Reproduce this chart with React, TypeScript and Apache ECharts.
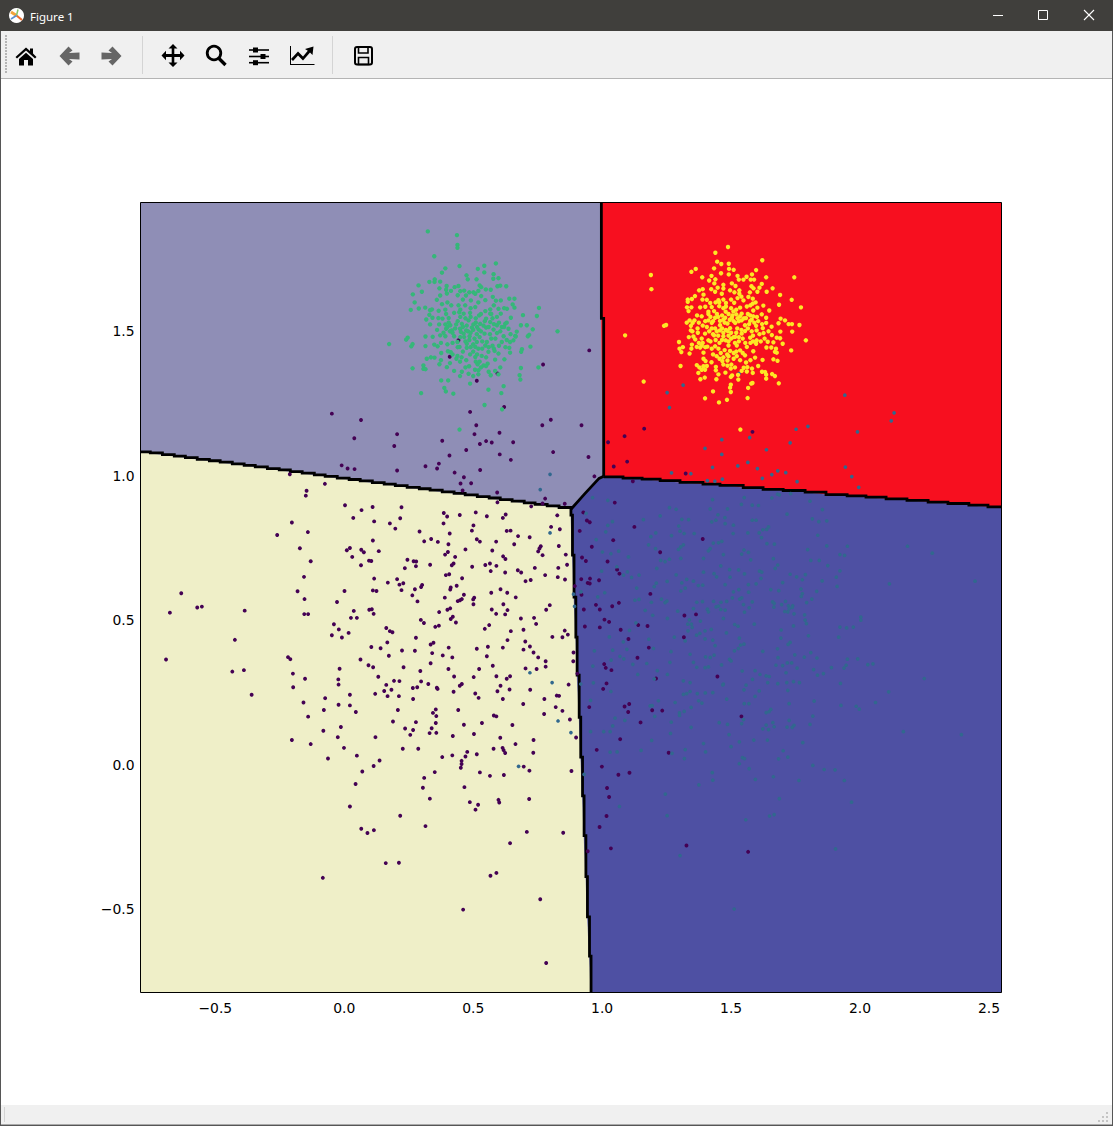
import React, { useEffect, useRef } from "react";
import * as echarts from "echarts";

const xLimits = [-0.79, 2.5485];
const yLimits = [-0.789, 1.946];
const tickValuesX = [-0.5, 0, 0.5, 1, 1.5, 2, 2.5];
const tickValuesY = [-0.5, 0, 0.5, 1, 1.5];

const boundaryLeft = [[-0.79,1.083],[-0.752,1.079],[-0.705,1.073],[-0.659,1.068],[-0.616,1.063],[-0.57,1.057],[-0.523,1.052],[-0.481,1.047],[-0.434,1.041],[-0.388,1.036],[-0.345,1.031],[-0.298,1.025],[-0.252,1.02],[-0.209,1.014],[-0.163,1.009],[-0.116,1.003],[-0.074,0.998],[-0.027,0.992],[0.019,0.987],[0.062,0.982],[0.109,0.976],[0.155,0.971],[0.198,0.966],[0.244,0.96],[0.291,0.955],[0.333,0.95],[0.38,0.944],[0.426,0.939],[0.469,0.934],[0.516,0.928],[0.562,0.923],[0.605,0.917],[0.651,0.912],[0.698,0.906],[0.74,0.901],[0.787,0.896],[0.833,0.89],[0.88,0.885]];
const boundaryTop = [[0.997,1.946],[0.997,1.545],[1.006,0.998]];
const boundaryDiagonal = [[1.006,0.998],[0.988,0.991],[0.934,0.939],[0.921,0.926],[0.88,0.885]];
const boundaryRight = [[1.006,0.996],[1.081,0.992],[1.155,0.988],[1.225,0.983],[1.302,0.977],[1.391,0.971],[1.457,0.967],[1.547,0.959],[1.624,0.953],[1.702,0.949],[1.787,0.943],[1.868,0.935],[1.95,0.93],[2.023,0.926],[2.101,0.92],[2.182,0.915],[2.264,0.909],[2.341,0.904],[2.422,0.898],[2.496,0.892],[2.5485,0.892]];
const boundaryBottom = [[0.879,0.886],[0.879,0.864],[0.885,0.725],[0.891,0.58],[0.898,0.441],[0.903,0.31],[0.911,0.164],[0.917,0.026],[0.924,-0.108],[0.93,-0.246],[0.937,-0.388],[0.943,-0.527],[0.951,-0.663],[0.957,-0.789]];

const purplePoints = [[-0.048,1.215],[0.065,1.193],[0.039,1.13],[0.205,1.144],[0.194,1.103],[-0.01,1.036],[0.013,1.025],[0.04,1.023],[0.205,1.018],[0.315,1.033],[0.367,1.042],[0.36,1.025],[-0.211,1.005],[-0.075,0.972],[-0.146,0.948],[-0.149,0.931],[0.003,0.898],[0.067,0.881],[0.11,0.892],[0.222,0.891],[0.035,0.854],[0.116,0.842],[0.217,0.853],[0.177,0.835],[0.198,0.817],[-0.203,0.838],[-0.26,0.795],[-0.141,0.805],[0.292,0.807],[0.31,0.773],[0.337,0.781],[0.363,0.771],[0.111,0.776],[-0.172,0.749],[0.01,0.742],[0.022,0.75],[0.066,0.744],[0.076,0.735],[0.134,0.739],[0.031,0.719],[-0.13,0.704],[0.096,0.706],[0.105,0.705],[0.245,0.709],[0.269,0.704],[0.279,0.703],[0.065,0.69],[0.278,0.687],[0.235,0.68],[0.333,0.692],[-0.156,0.65],[0.116,0.644],[0.169,0.63],[0.205,0.642],[0.214,0.623],[0.229,0.628],[0.302,0.622],[0.298,0.615],[0.274,0.607],[-0.181,0.6],[0.001,0.601],[0.111,0.603],[0.125,0.601],[0.222,0.604],[0.264,0.586],[-0.632,0.593],[-0.154,0.573],[-0.028,0.563],[0.284,0.565],[-0.676,0.526],[-0.57,0.544],[-0.552,0.547],[-0.386,0.533],[-0.155,0.521],[-0.14,0.521],[0.037,0.532],[0.097,0.536],[0.107,0.538],[0.114,0.522],[0.026,0.508],[0.049,0.508],[0.368,0.528],[0.297,0.501],[0.309,0.49],[0.353,0.477],[0.367,0.481],[-0.04,0.486],[-0.021,0.468],[0.017,0.456],[-0.048,0.448],[-0.009,0.44],[0.163,0.473],[0.177,0.462],[0.187,0.458],[0.278,0.439],[-0.424,0.432],[0.167,0.423],[0.335,0.416],[0.346,0.422],[0.105,0.407],[0.141,0.403],[0.224,0.395],[0.274,0.394],[0.341,0.386],[0.173,0.377],[-0.691,0.364],[-0.218,0.372],[-0.209,0.365],[0.063,0.364],[0.335,0.351],[0.094,0.344],[0.112,0.337],[0.23,0.337],[-0.018,0.332],[-0.434,0.322],[-0.389,0.327],[0.295,0.324],[-0.199,0.315],[-0.152,0.297],[-0.023,0.295],[0.132,0.304],[0.193,0.29],[0.214,0.289],[0.298,0.288],[0.326,0.279],[-0.022,0.277],[0.163,0.276],[-0.198,0.268],[0.266,0.265],[0.283,0.268],[0.359,0.266],[0.362,0.262],[0.155,0.255],[0.183,0.259],[-0.359,0.242],[0.022,0.242],[0.12,0.245],[0.168,0.237],[0.212,0.237],[-0.074,0.23],[0.267,0.227],
[0.488,1.221],[0.62,1.238],[0.512,1.175],[0.768,1.175],[0.801,1.194],[0.92,1.175],[0.505,1.144],[0.602,1.149],[0.38,1.121],[0.55,1.12],[0.572,1.115],[0.526,1.11],[0.655,1.116],[0.473,1.089],[0.408,1.07],[0.603,1.074],[0.81,1.082],[0.646,1.055],[0.947,1.065],[0.527,1.02],[0.428,1.011],[0.464,0.995],[0.451,0.973],[0.492,0.974],[0.97,0.998],[0.459,0.949],[0.593,0.942],[0.779,0.921],[0.594,0.908],[0.769,0.904],[0.725,0.894],[0.855,0.903],[1.163,1.163],[1.087,1.137],[1.023,1.116],[1.097,1.049],[1.045,1.032],[1.324,1.008],[1.119,0.981],[1.583,1.152],[0.409,1.412],[0.514,1.329],[0.771,1.385],[0.95,1.434],[0.594,1.354],[0.443,1.469],
[0.386,0.871],[0.399,0.859],[0.448,0.864],[0.51,0.873],[0.553,0.86],[0.626,0.866],[0.615,0.854],[0.826,0.863],[0.385,0.835],[0.501,0.828],[0.495,0.81],[0.802,0.823],[0.836,0.815],[0.63,0.809],[0.645,0.81],[0.409,0.8],[0.674,0.791],[0.719,0.787],[0.514,0.78],[0.526,0.772],[0.589,0.772],[0.404,0.763],[0.659,0.763],[0.832,0.757],[0.762,0.756],[0.757,0.748],[0.752,0.738],[0.47,0.745],[0.574,0.741],[0.402,0.736],[0.391,0.727],[0.769,0.725],[0.859,0.727],[0.43,0.719],[0.616,0.721],[0.625,0.712],[0.424,0.696],[0.417,0.69],[0.565,0.696],[0.547,0.691],[0.59,0.688],[0.496,0.685],[0.864,0.692],[0.83,0.681],[0.739,0.681],[0.568,0.67],[0.673,0.673],[0.686,0.665],[0.624,0.665],[0.779,0.656],[0.394,0.656],[0.407,0.659],[0.828,0.649],[0.856,0.641],[0.457,0.645],[0.703,0.635],[0.723,0.639],[0.436,0.619],[0.413,0.613],[0.411,0.606],[0.606,0.607],[0.57,0.595],[0.632,0.595],[0.464,0.588],[0.504,0.578],[0.39,0.578],[0.665,0.579],[0.456,0.573],[0.449,0.569],[0.44,0.566],[0.5,0.572],[0.501,0.555],[0.617,0.555],[0.797,0.552],[0.411,0.541],[0.4,0.536],[0.572,0.537],[0.633,0.535],[0.783,0.536],[0.589,0.522],[0.624,0.52],[0.421,0.512],[0.413,0.504],[0.685,0.506],[0.736,0.508],[0.433,0.492],[0.744,0.487],[0.562,0.483],[0.545,0.47],[0.646,0.462],[0.695,0.467],[0.855,0.464],[0.867,0.45],[0.846,0.441],[0.807,0.442],[0.633,0.431],[0.702,0.426],[0.72,0.409],[0.405,0.405],[0.514,0.401],[0.557,0.408],[0.615,0.405],[0.695,0.398],[0.734,0.388],[0.889,0.388],[0.382,0.378],[0.419,0.371],[0.553,0.375],[0.752,0.371],[0.781,0.358],[0.888,0.358],[0.576,0.342],[0.781,0.339],[0.404,0.331],[0.523,0.331],[0.746,0.331],[0.703,0.333],[0.904,0.315],[0.426,0.305],[0.502,0.303],[0.59,0.306],[0.643,0.306],[0.63,0.297],[0.456,0.279],[0.448,0.273],[0.606,0.273],[0.87,0.277],[0.424,0.252],[0.508,0.246],[0.594,0.254],[0.641,0.26],[0.721,0.259],[0.824,0.239],[0.833,0.238],[0.521,0.231],[0.615,0.227],[0.776,0.227],
[1.049,0.907],[0.927,0.873],[0.941,0.845],[0.952,0.839],[0.913,0.809],[1.125,0.823],[1.043,0.777],[1.39,0.781],[0.96,0.754],[1.225,0.735],[0.922,0.717],[0.937,0.705],[1.021,0.703],[1.058,0.675],[1.067,0.661],[0.919,0.642],[0.953,0.644],[0.988,0.638],[0.944,0.629],[0.952,0.627],[0.894,0.618],[1.187,0.591],[0.92,0.588],[0.976,0.553],[1.039,0.548],[1.065,0.56],[0.929,0.537],[0.991,0.537],[1.319,0.516],[1.364,0.52],[1.009,0.502],[1.027,0.494],[1.14,0.483],[1.176,0.48],[0.933,0.478],[0.991,0.475],[1.072,0.467],[1.102,0.435],[1.317,0.441],[1.181,0.405],[1.137,0.37],[1.008,0.348],[1.036,0.327],[1.014,0.335],[1.209,0.298],[1.447,0.305],[1.017,0.281],[1.004,0.262],
[-0.158,0.215],[-0.022,0.207],[0.022,0.205],[-0.14,0.166],[-0.079,0.189],[0.045,0.182],[0.208,0.189],[0.344,0.179],[0.355,0.191],[0.442,0.189],[0.357,0.168],[0.58,0.17],[0.59,0.167],[0.694,0.21],[0.82,0.199],[0.846,0.186],[0.775,0.175],[0.875,0.156],[0.189,0.149],[0.278,0.147],[0.355,0.144],[0.464,0.138],[0.534,0.144],[0.652,0.137],[-0.013,0.13],[0.236,0.125],[0.339,0.126],[0.267,0.12],[-0.081,0.117],[0.331,0.109],[0.357,0.11],[0.256,0.103],[0.503,0.106],[0.421,0.099],[-0.025,0.095],[0.121,0.095],[0.605,0.093],[0.899,0.094],[-0.203,0.085],[-0.13,0.071],[0.734,0.085],[0.664,0.071],[-0.001,0.058],[0.227,0.055],[0.287,0.055],[0.579,0.055],[0.614,0.058],[0.618,0.05],[0.477,0.044],[0.624,0.04],[0.733,0.041],[0.514,0.036],[0.049,0.031],[0.47,0.028],[0.419,0.032],[0.38,0.026],[-0.063,0.021],[0.137,0.014],[0.455,0.013],[0.455,0.002],[0.452,-0.011],[0.114,-0.005],[0.696,-0.007],[0.07,-0.024],[0.351,-0.026],[0.718,-0.021],[0.881,-0.022],[0.526,-0.027],[0.565,-0.039],[0.619,-0.036],[0.31,-0.046],[0.044,-0.067],[0.466,-0.078],[0.305,-0.08],[0.332,-0.118],[0.598,-0.122],[0.601,-0.131],[0.717,-0.119],[0.487,-0.13],[0.519,-0.139],[0.509,-0.156],[0.022,-0.145],[0.217,-0.177],[0.315,-0.213],[0.066,-0.222],[0.09,-0.237],[0.115,-0.227],[0.708,-0.233],[0.849,-0.236],[0.643,-0.272],[0.161,-0.341],[0.212,-0.34],[-0.083,-0.392],[0.59,-0.375],[0.567,-0.385],[0.76,-0.466],[0.461,-0.502],[0.783,-0.687],
[0.95,0.199],[0.979,0.051],[0.999,-0.007],[1.063,-0.035],[1.019,-0.081],[1.027,-0.112],[1.017,-0.178],[0.99,-0.216],[0.944,-0.3],[1.034,-0.29],[1.07,0.088],[1.105,0.21],[1.087,0.201],[1.101,0.182],[1.194,0.188],[1.233,0.187],[1.149,0.146],[1.54,0.167],[1.258,0.041],[1.106,-0.028],[1.327,-0.28],[1.566,-0.302]];

const tealPoints = [[0.798,1.005],[0.76,0.952],[0.798,0.802],[0.72,0.318],[0.806,0.284],[1.261,1.236],[1.464,1.125],[1.399,1.095],[1.464,1.074],[1.428,1.029],[1.269,1.01],[1.344,1.007],[1.408,0.983],[1.437,0.981],[1.466,0.988],[1.353,1.482],[1.314,1.314],[1.252,1.288],[1.531,1.354],[1.941,1.279],
[2.132,1.218],[2.121,1.19],[1.99,1.152],[1.798,1.171],[1.752,1.161],[1.572,1.132],[1.729,1.114],[1.637,1.09],[1.565,1.046],[1.526,1.034],[1.602,1.025],[1.681,1.017],[1.658,1.004],[1.712,1.011],[1.621,0.991],[1.756,0.98],[1.943,1.03],[1.968,0.997],[1.995,0.96],
[0.829,0.151],[0.879,0.111],[0.676,-0.006],[0.955,0.222],[1.05,0.161],[1.041,0.134],[0.955,0.114],[1.006,0.114],[1.031,0.114],[1.031,0.043],[1.058,0.044],[0.93,-0.034],[1.067,-0.145],
[0.963,0.924],[1.022,0.915],[0.938,0.87],[1.261,0.89],[1.287,0.884],[1.225,0.861],[1.16,0.848],[1.04,0.841],[1.022,0.828],[1.014,0.806],[1.309,0.849],[1.335,0.848],[1.297,0.826],[1.425,0.84],[1.441,0.846],[1.449,0.865],[1.419,0.885],[1.428,0.917],[1.486,0.885],[1.476,0.855],[1.477,0.834],[1.302,0.808],[1.318,0.8],[1.357,0.8],[1.208,0.802],[1.189,0.789],[1.269,0.793],[0.977,0.779],[1.18,0.761],[1.315,0.761],[1.305,0.754],[1.296,0.745],[1.207,0.748],[1.431,0.767],[1.451,0.768],[1.464,0.773],[1.419,0.748],[1.412,0.74],[1.001,0.736],[1.034,0.73],[1.064,0.739],[1.102,0.719],[1.305,0.714],[1.393,0.714],[1.47,0.727],[1.227,0.707],[1.244,0.703],[1.261,0.711],[1.057,0.685],[1.212,0.679],[1.46,0.688],[0.998,0.67],[1.393,0.666],[1.098,0.667],[1.083,0.656],[1.114,0.648],[1.143,0.656],[1.287,0.657],[1.434,0.661],[1.444,0.65],[1.252,0.634],[1.328,0.641],[1.309,0.629],[1.354,0.635],[1.373,0.62],[1.39,0.621],[1.477,0.623],[1.21,0.628],[1.202,0.616],[1.134,0.611],[1.322,0.611],[1.305,0.601],[1.01,0.595],[0.918,0.598],[0.889,0.59],[0.983,0.581],[1.23,0.573],[1.251,0.566],[1.244,0.561],[1.127,0.569],[1.143,0.572],[1.191,0.562],[1.367,0.562],[1.389,0.564],[1.432,0.565],[1.461,0.562],[1.483,0.565],[1.442,0.546],[1.451,0.549],[1.408,0.538],[1.46,0.537],[1.477,0.535],[1.293,0.531],[1.354,0.54],[0.893,0.548],[1.167,0.534],[1.412,0.529],[1.196,0.517],[1.253,0.506],[1.338,0.501],[1.381,0.497],[1.47,0.506],[1.131,0.491],[1.332,0.486],[1.346,0.486],[1.349,0.475],[1.333,0.463],[1.423,0.468],[1.399,0.463],[1.379,0.454],[1.366,0.448],[1.482,0.456],[1.106,0.465],[1.082,0.425],[1.028,0.442],[1.181,0.434],[1.28,0.441],[1.322,0.428],[1.399,0.435],[1.429,0.431],[1.438,0.412],[1.199,0.402],[1.267,0.391],[1.096,0.399],[1.041,0.396],[0.97,0.394],[1.069,0.375],[1.084,0.366],[1.035,0.362],[1.263,0.354],[1.173,0.35],[1.341,0.382],[1.354,0.354],[1.367,0.337],[1.401,0.373],[1.419,0.371],[1.434,0.379],[1.463,0.345],[1.399,0.336],[1.412,0.338],[1.119,0.347],[0.964,0.341],[1.214,0.325],[1.138,0.312],[1.253,0.312],[1.202,0.297],[0.917,0.279],[0.966,0.283],[1.315,0.29],[1.341,0.284],[1.47,0.279],[1.034,0.253],[1.315,0.243],[1.328,0.246],[1.341,0.253],[1.369,0.246],[1.4,0.248],[1.429,0.249],
[1.551,0.924],[1.54,0.901],[1.582,0.898],[1.606,0.897],[1.658,0.923],[1.68,0.936],[1.687,0.934],[1.731,0.938],[1.806,0.912],[1.854,0.883],[1.717,0.867],[1.815,0.851],[1.84,0.841],[1.871,0.844],[1.582,0.846],[1.597,0.846],[1.509,0.829],[1.623,0.813],[1.638,0.814],[1.645,0.823],[1.565,0.802],[1.508,0.8],[1.609,0.802],[1.618,0.786],[1.836,0.794],[1.639,0.765],[1.668,0.763],[1.871,0.757],[1.951,0.756],[2.184,0.756],[2.28,0.732],[1.797,0.744],[1.55,0.743],[1.567,0.735],[1.541,0.729],[1.664,0.713],[1.922,0.727],[1.94,0.724],[1.576,0.709],[1.809,0.707],[1.842,0.707],[1.681,0.691],[1.875,0.689],[1.671,0.679],[1.494,0.675],[1.529,0.674],[1.61,0.67],[1.619,0.666],[1.922,0.671],[1.552,0.66],[1.729,0.659],[1.788,0.658],[1.754,0.65],[1.496,0.649],[1.616,0.645],[1.908,0.649],[1.776,0.64],[1.853,0.636],[1.7,0.63],[1.567,0.623],[1.597,0.626],[2.114,0.626],[2.446,0.635],[1.911,0.617],[1.654,0.606],[1.685,0.602],[1.771,0.608],[1.832,0.6],[1.509,0.598],[1.53,0.606],[1.568,0.597],[1.776,0.592],[1.772,0.582],[1.541,0.577],[1.505,0.577],[1.533,0.573],[1.813,0.573],[1.793,0.561],[1.582,0.563],[1.711,0.565],[1.661,0.563],[1.667,0.558],[1.696,0.554],[1.722,0.55],[1.739,0.55],[1.548,0.554],[1.666,0.545],[1.57,0.543],[1.725,0.54],[1.737,0.544],[1.708,0.53],[1.72,0.529],[1.744,0.522],[1.552,0.528],[1.785,0.518],[2.003,0.511],[2.003,0.5],[1.787,0.5],[1.792,0.488],[1.59,0.486],[1.514,0.485],[1.527,0.479],[1.742,0.48],[1.922,0.476],[1.948,0.473],[1.974,0.476],[1.694,0.466],[1.8,0.446],[1.917,0.441],[1.532,0.438],[1.693,0.438],[1.721,0.416],[1.729,0.423],[1.55,0.417],[1.537,0.414],[1.528,0.402],[1.513,0.394],[1.623,0.392],[1.68,0.401],[1.809,0.388],[1.747,0.38],[1.784,0.372],[1.833,0.369],[1.682,0.37],[1.951,0.365],[1.991,0.366],[1.494,0.364],[1.5,0.359],[1.718,0.352],[1.735,0.352],[1.674,0.344],[1.7,0.343],[1.756,0.334],[1.82,0.329],[1.889,0.336],[1.946,0.344],[1.938,0.334],[2.03,0.346],[2.05,0.349],[1.543,0.324],[1.593,0.325],[1.713,0.318],[1.612,0.312],[1.858,0.315],[1.835,0.31],[1.636,0.307],[1.648,0.305],[1.583,0.295],[2.249,0.298],[1.642,0.284],[1.681,0.28],[1.716,0.284],[1.742,0.287],[1.765,0.284],[1.924,0.281],[1.558,0.275],[1.468,0.276],[1.55,0.259],[1.609,0.255],[1.72,0.257],[2.111,0.252],[1.593,0.236],
[1.186,0.203],[1.194,0.204],[1.218,0.221],[1.283,0.215],[1.374,0.221],[1.387,0.213],[1.483,0.227],[1.551,0.211],[1.569,0.211],[1.725,0.211],[1.822,0.22],[1.926,0.205],[1.985,0.202],[1.997,0.192],[2.06,0.215],[1.3,0.179],[1.318,0.184],[1.3,0.17],[1.345,0.198],[1.204,0.167],[1.088,0.153],[1.268,0.147],[1.345,0.129],[1.265,0.108],[1.192,0.084],[1.151,0.049],[1.454,0.145],[1.486,0.139],[1.541,0.142],[1.548,0.156],[1.492,0.104],[1.636,0.18],[1.647,0.183],[1.654,0.191],[1.817,0.168],[1.725,0.153],[1.806,0.139],[1.744,0.136],[1.737,0.129],[1.717,0.13],[1.636,0.137],[1.662,0.145],[1.667,0.131],[1.623,0.124],[1.645,0.121],[1.641,0.085],[1.588,0.085],[1.532,0.079],[1.5,0.062],[1.393,0.073],[1.401,0.044],[1.322,0.052],[1.319,0.021],[1.271,0.039],[1.778,0.076],[1.702,0.048],[1.684,0.02],[1.72,0.026],[1.544,0.024],[1.552,0.021],[1.532,0.003],[1.57,-0.014],[1.817,-0.003],[1.861,-0.017],[1.903,-0.018],[1.427,-0.028],[1.429,-0.054],[1.375,-0.07],[1.594,-0.051],[1.664,-0.042],[1.763,-0.055],[1.939,-0.055],[1.245,-0.102],[1.687,-0.118],[1.967,-0.13],[1.252,-0.177],[1.649,-0.178],[1.667,-0.173],[1.557,-0.191],[2.168,0.114],[2.393,0.104],[1.905,-0.292],[1.302,-0.315],[1.512,-0.5]];

const greenPoints = [[0.324,1.846],[0.437,1.833],[0.439,1.799],[0.439,1.789],[0.349,1.76],[0.447,1.726],[0.588,1.735],[0.543,1.727],[0.392,1.718],[0.518,1.716],[0.379,1.703],[0.543,1.704],[0.579,1.698],[0.474,1.694],[0.479,1.68],[0.351,1.68],[0.33,1.671],[0.35,1.671],[0.372,1.672],[0.513,1.68],[0.578,1.682],[0.598,1.684],[0.288,1.659],[0.301,1.637],[0.266,1.628],[0.273,1.6],[0.258,1.574],[0.289,1.579],[0.314,1.582],[0.333,1.573],[0.369,1.649],[0.397,1.657],[0.395,1.644],[0.414,1.64],[0.443,1.657],[0.428,1.653],[0.45,1.639],[0.398,1.631],[0.465,1.641],[0.501,1.635],[0.531,1.653],[0.549,1.645],[0.568,1.644],[0.594,1.656],[0.628,1.656],[0.525,1.659],[0.605,1.658],[0.372,1.624],[0.359,1.609],[0.379,1.594],[0.415,1.59],[0.472,1.624],[0.491,1.607],[0.531,1.622],[0.508,1.63],[0.547,1.608],[0.588,1.606],[0.576,1.619],[0.607,1.607],[0.64,1.613],[0.66,1.613],[0.653,1.593],[0.66,1.582],[0.631,1.578],[0.598,1.578],[0.566,1.576],[0.547,1.57],[0.508,1.584],[0.469,1.59],[0.443,1.59],[0.392,1.575],[0.366,1.571],[0.34,1.576],[0.33,1.557],[0.342,1.547],[0.318,1.541],[0.365,1.546],[0.381,1.544],[0.405,1.546],[0.426,1.564],[0.446,1.566],[0.463,1.561],[0.488,1.564],[0.523,1.555],[0.566,1.561],[0.592,1.55],[0.607,1.561],[0.646,1.547],[0.693,1.556],[0.747,1.553],[0.755,1.581],[0.333,1.524],[0.368,1.524],[0.392,1.524],[0.411,1.521],[0.434,1.524],[0.456,1.526],[0.482,1.538],[0.501,1.524],[0.527,1.526],[0.55,1.544],[0.566,1.532],[0.592,1.521],[0.624,1.526],[0.685,1.521],[0.708,1.521],[0.731,1.507],[0.827,1.5],[0.669,1.499],[0.663,1.484],[0.717,1.488],[0.712,1.483],[0.395,1.509],[0.417,1.503],[0.449,1.509],[0.473,1.503],[0.495,1.513],[0.521,1.506],[0.55,1.513],[0.579,1.506],[0.611,1.515],[0.637,1.509],[0.372,1.486],[0.392,1.483],[0.426,1.483],[0.463,1.492],[0.486,1.483],[0.514,1.49],[0.544,1.492],[0.592,1.494],[0.618,1.483],[0.665,1.482],[0.315,1.482],[0.343,1.481],[0.246,1.478],[0.24,1.471],[0.174,1.456],[0.265,1.456],[0.26,1.448],[0.315,1.449],[0.349,1.454],[0.362,1.448],[0.439,1.463],[0.475,1.457],[0.514,1.463],[0.553,1.463],[0.586,1.475],[0.611,1.463],[0.643,1.463],[0.656,1.469],[0.64,1.443],[0.475,1.443],[0.508,1.446],[0.547,1.451],[0.583,1.432],[0.598,1.423],[0.643,1.426],[0.689,1.438],[0.686,1.429],[0.722,1.447],[0.402,1.431],[0.376,1.425],[0.413,1.428],[0.447,1.446],[0.488,1.42],[0.508,1.411],[0.533,1.415],[0.559,1.429],[0.32,1.405],[0.336,1.41],[0.35,1.409],[0.375,1.4],[0.439,1.415],[0.449,1.395],[0.473,1.4],[0.585,1.402],[0.621,1.403],[0.369,1.386],[0.307,1.382],[0.398,1.376],[0.517,1.386],[0.54,1.382],[0.556,1.388],[0.605,1.375],[0.265,1.372],[0.307,1.37],[0.315,1.369],[0.685,1.373],[0.753,1.375],[0.484,1.379],[0.507,1.367],[0.426,1.363],[0.456,1.36],[0.585,1.363],[0.482,1.353],[0.52,1.351],[0.449,1.345],[0.568,1.348],[0.598,1.351],[0.68,1.348],[0.683,1.333],[0.376,1.33],[0.403,1.33],[0.488,1.319],[0.618,1.31],[0.388,1.304],[0.394,1.292],[0.559,1.298],[0.609,1.286],[0.298,1.286],[0.423,1.284],[0.544,1.245],[0.612,1.23],[0.447,1.16],
[0.4,1.515],[0.41,1.5],[0.405,1.53],[0.42,1.495],[0.43,1.51],[0.44,1.535],[0.452,1.498],[0.46,1.515],[0.465,1.48],[0.475,1.52],[0.48,1.5],[0.49,1.495],[0.485,1.47],[0.5,1.505],[0.505,1.475],[0.51,1.53],[0.515,1.515],[0.525,1.48],[0.53,1.5],[0.535,1.465],[0.54,1.52],[0.545,1.535],[0.56,1.515],[0.565,1.49],[0.57,1.475],[0.575,1.545],[0.58,1.525],[0.6,1.53],[0.605,1.5],[0.62,1.515],[0.63,1.53],[0.45,1.48],[0.47,1.465],[0.49,1.445],[0.5,1.455],[0.52,1.44],[0.535,1.44],[0.56,1.445],[0.575,1.45],[0.44,1.445],[0.46,1.43],[0.42,1.42],[0.435,1.405],[0.455,1.41],[0.5,1.43],[0.515,1.42],[0.525,1.395],[0.51,1.395],[0.53,1.375],[0.55,1.41],[0.45,1.55],[0.47,1.545],[0.49,1.55],[0.51,1.545],[0.53,1.56],[0.49,1.58],[0.45,1.575],[0.52,1.6],[0.46,1.61],[0.44,1.625],[0.485,1.635],[0.52,1.64],[0.58,1.59],[0.57,1.56],[0.62,1.58],[0.4,1.6],[0.395,1.56],[0.36,1.505],[0.385,1.495],[0.375,1.46],[0.4,1.455],[0.42,1.46],[0.58,1.44],[0.6,1.45],[0.625,1.445],[0.645,1.49],[0.63,1.47],[0.55,1.38],[0.47,1.375],[0.41,1.39],[0.52,1.365],[0.5,1.345],[0.56,1.36]];

const yellowPoints = [[1.488,1.792],[1.439,1.772],[1.621,1.746],[1.446,1.741],[1.491,1.734],[1.462,1.733],[1.434,1.718],[1.363,1.716],[1.346,1.706],[1.492,1.716],[1.51,1.713],[1.597,1.712],[1.461,1.701],[1.491,1.697],[1.581,1.697],[1.189,1.695],[1.388,1.687],[1.424,1.692],[1.525,1.692],[1.56,1.689],[1.636,1.687],[1.745,1.687],[1.415,1.676],[1.439,1.68],[1.53,1.679],[1.548,1.679],[1.576,1.679],[1.589,1.679],[1.435,1.666],[1.47,1.661],[1.503,1.666],[1.619,1.664],[1.517,1.657],[1.579,1.656],[1.587,1.649],[1.61,1.651],[1.661,1.649],[1.191,1.646],[1.376,1.642],[1.39,1.646],[1.423,1.646],[1.448,1.651],[1.47,1.648],[1.438,1.637],[1.496,1.642],[1.532,1.642],[1.638,1.637],[1.602,1.637],[1.36,1.622],[1.393,1.627],[1.464,1.63],[1.513,1.635],[1.532,1.63],[1.573,1.635],[1.69,1.626],[1.332,1.61],[1.348,1.612],[1.389,1.61],[1.406,1.609],[1.451,1.608],[1.548,1.607],[1.567,1.619],[1.584,1.613],[1.735,1.609],[1.332,1.602],[1.419,1.598],[1.454,1.6],[1.48,1.598],[1.512,1.599],[1.686,1.592],[1.625,1.589],[1.584,1.596],[1.329,1.583],[1.346,1.583],[1.38,1.583],[1.425,1.584],[1.454,1.587],[1.48,1.586],[1.535,1.582],[1.602,1.582],[1.561,1.586],[1.771,1.583],[1.335,1.57],[1.412,1.568],[1.434,1.57],[1.479,1.568],[1.509,1.569],[1.586,1.572],[1.648,1.572],[1.368,1.555],[1.412,1.56],[1.52,1.559],[1.541,1.561],[1.574,1.555],[1.619,1.559],[1.386,1.552],[1.438,1.547],[1.477,1.547],[1.503,1.547],[1.535,1.552],[1.558,1.546],[1.586,1.552],[1.636,1.547],[1.692,1.544],[1.339,1.538],[1.358,1.538],[1.412,1.538],[1.457,1.536],[1.541,1.538],[1.574,1.536],[1.709,1.538],[1.328,1.53],[1.351,1.529],[1.425,1.529],[1.486,1.527],[1.516,1.529],[1.636,1.529],[1.684,1.528],[1.723,1.525],[1.736,1.525],[1.765,1.522],[1.24,1.519],[1.248,1.522],[1.344,1.519],[1.406,1.515],[1.457,1.521],[1.554,1.521],[1.597,1.519],[1.657,1.516],[1.438,1.51],[1.496,1.511],[1.524,1.51],[1.623,1.511],[1.599,1.503],[1.344,1.503],[1.371,1.495],[1.457,1.503],[1.487,1.501],[1.554,1.501],[1.626,1.494],[1.691,1.499],[1.737,1.499],[1.354,1.482],[1.399,1.492],[1.434,1.486],[1.47,1.483],[1.516,1.481],[1.541,1.492],[1.574,1.478],[1.658,1.487],[1.336,1.48],[1.677,1.478],[1.69,1.476],[1.79,1.469],[1.298,1.463],[1.361,1.472],[1.386,1.475],[1.412,1.469],[1.479,1.469],[1.599,1.469],[1.642,1.464],[1.664,1.462],[1.7,1.457],[1.313,1.445],[1.3,1.44],[1.348,1.454],[1.367,1.446],[1.386,1.451],[1.408,1.447],[1.438,1.448],[1.49,1.451],[1.522,1.451],[1.561,1.446],[1.597,1.457],[1.637,1.444],[1.656,1.444],[1.674,1.44],[1.346,1.44],[1.38,1.444],[1.451,1.44],[1.496,1.432],[1.535,1.434],[1.307,1.428],[1.339,1.423],[1.393,1.426],[1.677,1.426],[1.733,1.434],[1.67,1.429],[1.586,1.431],[1.444,1.414],[1.49,1.414],[1.522,1.414],[1.554,1.417],[1.393,1.405],[1.593,1.409],[1.622,1.401],[1.664,1.403],[1.68,1.398],[1.401,1.397],[1.424,1.393],[1.466,1.397],[1.486,1.399],[1.558,1.392],[1.605,1.38],[1.304,1.38],[1.367,1.383],[1.377,1.375],[1.393,1.379],[1.406,1.38],[1.441,1.377],[1.47,1.385],[1.486,1.381],[1.501,1.385],[1.515,1.375],[1.549,1.374],[1.563,1.376],[1.581,1.371],[1.386,1.367],[1.399,1.367],[1.373,1.356],[1.441,1.365],[1.499,1.371],[1.541,1.363],[1.584,1.356],[1.62,1.36],[1.632,1.359],[1.636,1.35],[1.659,1.352],[1.67,1.345],[1.451,1.351],[1.478,1.357],[1.504,1.347],[1.527,1.349],[1.561,1.361],[1.381,1.334],[1.398,1.34],[1.443,1.334],[1.499,1.342],[1.528,1.333],[1.636,1.336],[1.161,1.326],[1.685,1.32],[1.578,1.319],[1.583,1.321],[1.499,1.315],[1.496,1.305],[1.566,1.304],[1.43,1.292],[1.499,1.29],[1.399,1.268],[1.564,1.269],[1.484,1.263],[1.453,1.254],[1.536,1.16],[1.089,1.486],
[1.42,1.55],[1.43,1.535],[1.445,1.56],[1.45,1.55],[1.465,1.555],[1.47,1.54],[1.475,1.53],[1.49,1.56],[1.495,1.54],[1.505,1.555],[1.51,1.535],[1.525,1.545],[1.53,1.535],[1.55,1.545],[1.565,1.56],[1.57,1.525],[1.58,1.54],[1.59,1.53],[1.415,1.5],[1.425,1.51],[1.43,1.49],[1.445,1.5],[1.45,1.485],[1.465,1.51],[1.47,1.495],[1.48,1.505],[1.49,1.485],[1.5,1.495],[1.51,1.48],[1.52,1.495],[1.53,1.48],[1.54,1.505],[1.565,1.51],[1.58,1.5],[1.585,1.485],[1.61,1.49],[1.42,1.465],[1.44,1.47],[1.455,1.46],[1.465,1.47],[1.49,1.465],[1.5,1.475],[1.515,1.46],[1.53,1.465],[1.545,1.475],[1.555,1.46],[1.575,1.46],[1.585,1.465],[1.615,1.465],[1.63,1.475],[1.375,1.46],[1.39,1.46],[1.4,1.445],[1.425,1.44],[1.46,1.425],[1.475,1.435],[1.485,1.42],[1.51,1.425],[1.52,1.43],[1.545,1.425],[1.51,1.405],[1.535,1.4],[1.575,1.4],[1.43,1.42],[1.455,1.405],[1.47,1.41],[1.39,1.52],[1.375,1.53],[1.4,1.535],[1.37,1.51],[1.35,1.5],[1.6,1.55],[1.605,1.535],[1.62,1.525],[1.645,1.5],[1.47,1.58],[1.5,1.58],[1.52,1.575],[1.5,1.61],[1.525,1.615],[1.47,1.61],[1.44,1.6],[1.4,1.585],[1.595,1.6],[1.575,1.59],[1.54,1.62]];

const icons: Record<string, string> = {
  iconHome: "M26 47.5 L30 51 L30 48.5 L33 48.5 L33 53.6 L36.5 57 L35 58.6 L26 50.6 L17 58.6 L15.5 57 Z M19 59 L26 52.8 L33 59 L33 65.5 L28 65.5 L28 60 L24 60 L24 65.5 L19 65.5 Z",
  iconBack: "M59.5 56 L68.5 46.5 L72.5 50.5 L69 53 L79.5 52.5 L79.5 59.5 L69 59 L72.5 61.5 L68.5 65.5 Z",
  iconForward: "M121.5 56 L112.5 46.5 L108.5 50.5 L112 53 L101.5 52.5 L101.5 59.5 L112 59 L108.5 61.5 L112.5 65.5 Z",
  iconMove: "M173 44 L177.5 48.5 L174.3 48.5 L174.3 54 L180 54 L180 50.8 L184.5 55.5 L180 60.2 L180 57 L174.3 57 L174.3 62.5 L177.5 62.5 L173 67 L168.5 62.5 L171.7 62.5 L171.7 57 L166 57 L166 60.2 L161.5 55.5 L166 50.8 L166 54 L171.7 54 L171.7 48.5 L168.5 48.5 Z",
  iconArrow: "M305 49 L313.5 46.5 L312.5 55 L310 52.5 L303 60.5 L298 55.5 L293 61 L291 59 L298 51.5 L303 56.5 L307.8 50.8 Z",
};
Object.keys(icons).forEach((name) => {
  echarts.graphic.registerShape(name, echarts.graphic.extendPath(icons[name], {}));
});

const regionPolygons = [
  { fill: "#efefc8", points: [...boundaryLeft, ...boundaryBottom, [xLimits[0], yLimits[0]]] },
  { fill: "#8f8eb6", points: [[xLimits[0], yLimits[1]], ...boundaryTop, ...boundaryDiagonal, ...[...boundaryLeft].reverse()] },
  { fill: "#f70f1f", points: [...boundaryTop, ...boundaryRight, [xLimits[1], yLimits[1]]] },
  { fill: "#4e50a3", points: [...boundaryRight, [xLimits[1], yLimits[0]], ...[...boundaryBottom].reverse(), ...[...boundaryDiagonal].reverse()] },
];

function boundarySeries(data: number[][], step: string | boolean = "end") {
  return {
    type: "line", data, step, showSymbol: false, silent: true, z: 3, clip: true,
    lineStyle: { color: "#000", width: 2.8, join: "miter", cap: "butt" },
  };
}

function scatterSeries(data: number[][], color: string, size: number) {
  return { type: "scatter", data, symbolSize: size, silent: true, z: 4, itemStyle: { color, opacity: 1 } };
}

const line = (x1: number, y1: number, x2: number, y2: number, stroke: string, lineWidth: number, extra = {}) => ({
  type: "line", silent: true, shape: { x1, y1, x2, y2 }, style: { stroke, lineWidth, ...extra },
});
const rect = (x: number, y: number, width: number, height: number, fill: string) => ({
  type: "rect", silent: true, shape: { x, y, width, height }, style: { fill },
});
const rectOutline = (x: number, y: number, width: number, height: number, stroke: string, lineWidth: number, r = 0) => ({
  type: "rect", silent: true, shape: { x, y, width, height, r }, style: { fill: "none", stroke, lineWidth },
});

const chrome: any[] = [
  rect(0, 0, 1113, 31, "#403f3c"),
  rect(1, 31, 1111, 47, "#f0f0f0"),
  rect(1, 78, 1111, 1, "#b4b4b4"),
  rect(1, 1105, 1111, 19, "#f0f0f0"),
  rect(0, 31, 1, 1095, "#565656"),
  rect(1112, 31, 1, 1095, "#565656"),
  rect(0, 1124.5, 1113, 1.5, "#565656"),
  line(4.5, 1107, 4.5, 1122, "#d4d4d4", 1),
  line(6, 35, 6, 73, "#b5b5b5", 2, { lineDash: [2, 1] }),
  line(142.5, 36, 142.5, 74, "#d4d4d4", 1),
  line(332.5, 36, 332.5, 74, "#d4d4d4", 1),
  { type: "circle", silent: true, shape: { cx: 16.5, cy: 15.5, r: 7.5 }, style: { fill: "#fff" } },
  line(16.5, 15.5, 11, 12, "#f2a43a", 3),
  line(16.5, 15.5, 22, 20, "#ef6d2c", 2.2),
  line(16.5, 15.5, 18, 9.5, "#86c46a", 1.6),
  line(16.5, 15.5, 11, 19, "#5b8fd0", 1.6),
  { type: "text", silent: true, x: 30, y: 16, style: { text: "Figure 1", fill: "#ffffff", font: '11.5px "Noto Sans"', verticalAlign: "middle" } },
  line(993, 15.5, 1003, 15.5, "#ffffff", 1),
  rectOutline(1038.5, 10.5, 9, 9, "#ffffff", 1),
  line(1084, 10, 1094, 20, "#ffffff", 1.1),
  line(1094, 10, 1084, 20, "#ffffff", 1.1),
  { type: "iconHome", silent: true, style: { fill: "#000" } },
  { type: "iconBack", silent: true, style: { fill: "#666" } },
  { type: "iconForward", silent: true, style: { fill: "#666" } },
  { type: "iconMove", silent: true, style: { fill: "#000" } },
  { type: "circle", silent: true, shape: { cx: 214, cy: 53, r: 6.8 }, style: { fill: "none", stroke: "#000", lineWidth: 2.8 } },
  line(219, 58.5, 225.5, 65, "#000", 3.4),
  line(249, 50, 269, 50, "#000", 1.6),
  line(249, 56.5, 269, 56.5, "#000", 1.6),
  line(249, 62.7, 269, 62.7, "#000", 1.6),
  rect(253, 47.5, 5, 5, "#000"),
  rect(260.5, 54, 5, 5, "#000"),
  rect(253, 60.2, 5, 5, "#000"),
  line(290.5, 46, 290.5, 65, "#000", 1),
  line(290, 64.5, 314.5, 64.5, "#000", 1),
  { type: "iconArrow", silent: true, style: { fill: "#000" } },
  rectOutline(355, 47, 17, 17.5, "#000", 2, 2),
  rectOutline(358.5, 47, 9.5, 6, "#000", 1.6),
  rectOutline(358.5, 57.5, 10, 7, "#000", 1.6),
  rect(1106, 1120, 2, 2, "#c4c4c4"),
  rect(1102, 1120, 2, 2, "#c4c4c4"),
  rect(1098, 1120, 2, 2, "#c4c4c4"),
  rect(1106, 1116, 2, 2, "#c4c4c4"),
  rect(1102, 1116, 2, 2, "#c4c4c4"),
  rect(1106, 1112, 2, 2, "#c4c4c4"),
];

export default function App() {
  const ref = useRef<HTMLDivElement>(null);
  useEffect(() => {
    document.body.style.margin = "0";
    const chart = echarts.init(ref.current!, undefined, { renderer: "svg" });
    const fmt = (v: number) => v.toFixed(1).replace("-", "\u2212");
    const axisText = { color: "#000", fontFamily: "DejaVu Sans", fontSize: 13.9, formatter: fmt };
    chart.setOption({
      animation: false,
      backgroundColor: "#ffffff",
      grid: { left: 140.5, top: 202.5, width: 861, height: 790, containLabel: false },
      xAxis: {
        type: "value", min: xLimits[0], max: xLimits[1], splitLine: { show: false },
        axisLine: { show: false },
        axisTick: { show: true, length: 4, customValues: tickValuesX, lineStyle: { color: "#000", width: 1 } },
        axisLabel: { ...axisText, margin: 8, customValues: tickValuesX },
      },
      yAxis: {
        type: "value", min: yLimits[0], max: yLimits[1], splitLine: { show: false },
        axisLine: { show: false },
        axisTick: { show: true, length: 4, customValues: tickValuesY, lineStyle: { color: "#000", width: 1 } },
        axisLabel: { ...axisText, margin: 6, customValues: tickValuesY },
      },
      graphic: { elements: chrome },
      series: [
        {
          type: "custom", coordinateSystem: "cartesian2d", silent: true, z: 1, clip: true,
          data: regionPolygons.map((_, i) => [i]),
          encode: { x: 0 },
          renderItem: (params: any, api: any) => {
            const region = regionPolygons[params.dataIndex];
            return {
              type: "polygon",
              shape: { points: region.points.map((p) => api.coord(p)) },
              style: { fill: region.fill, stroke: region.fill, lineWidth: 0.5 },
            };
          },
        },
        boundarySeries(boundaryLeft),
        boundarySeries(boundaryTop),
        boundarySeries(boundaryDiagonal, false),
        boundarySeries(boundaryRight),
        boundarySeries(boundaryBottom),
        scatterSeries(purplePoints, "#440154", 3.9),
        scatterSeries(tealPoints, "#31688e", 3.7),
        scatterSeries(greenPoints, "#35b779", 4.4),
        scatterSeries(yellowPoints, "#fde725", 4.4),
        {
          type: "custom", coordinateSystem: "cartesian2d", silent: true, z: 6, clip: false,
          data: [[0]],
          encode: { x: 0 },
          renderItem: (_: any, api: any) => {
            const a = api.coord([xLimits[0], yLimits[1]]);
            const b = api.coord([xLimits[1], yLimits[0]]);
            return {
              type: "rect",
              shape: { x: a[0], y: a[1], width: b[0] - a[0], height: b[1] - a[1] },
              style: { fill: "none", stroke: "#000", lineWidth: 1 },
            };
          },
        },
      ],
    });
    return () => chart.dispose();
  }, []);
  return <div ref={ref} style={{ width: 1113, height: 1126 }} />;
}
